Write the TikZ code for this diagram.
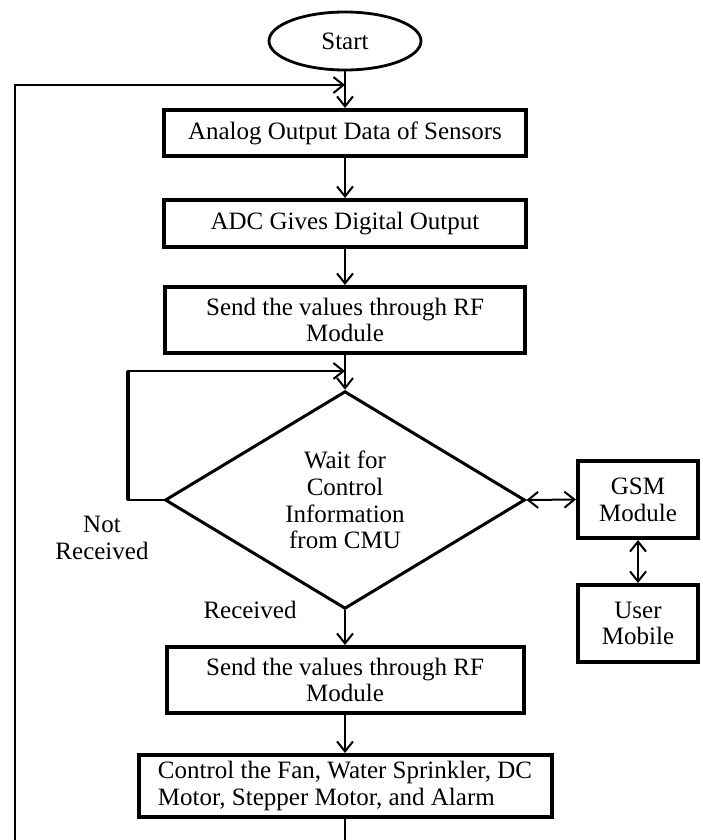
\documentclass[tikz,border=0pt]{standalone}
\usepackage{fontspec}
\setmainfont{Liberation Serif}
\usetikzlibrary{arrows.meta}
\usetikzlibrary{shapes.geometric}
\tikzstyle{term} = [draw, ellipse, line width=1.4pt, minimum width=76pt, minimum height=29pt]
\tikzstyle{box} = [draw, rectangle, line width=2pt, inner sep=0pt, align=center]
\tikzstyle{decision} = [draw, diamond, line width=1.5pt, inner sep=0pt, align=center, minimum width=180pt, minimum height=107pt]
\tikzstyle{arrow} = [-{Straight Barb[length=5pt,width=8pt]}, line width=1pt]
\tikzstyle{dblarrow} = [{Straight Barb[length=5pt,width=8pt]}-{Straight Barb[length=5pt,width=8pt]}, line width=1pt]

\begin{document}
\begin{tikzpicture}[x=0.5pt, y=-0.5pt, font=\fontsize{12.5}{13.4}\selectfont]
	\useasboundingbox (0,0) rectangle (702,840);

	\node[term](start) at (345,41){Start};
	\node[box, minimum width=181pt, minimum height=23pt](sensors) at (345,133){Analog Output Data of Sensors};
	\node[box, minimum width=181pt, minimum height=23.5pt](adc) at (345,223.5){ADC Gives Digital Output};
	\node[box, minimum width=180pt, minimum height=33pt](rfa) at (345,320){Send the values through RF\\Module};
	\node[decision](wait) at (345,500){Wait for\\Control\\Information\\from CMU};
	\node[box, minimum width=60pt, minimum height=38.5pt](gsm) at (638,499.5){GSM\\Module};
	\node[box, minimum width=60pt, minimum height=38.5pt](user) at (638,623.5){User\\Mobile};
	\node[box, minimum width=178.5pt, minimum height=33pt](rfb) at (345,680){Send the values through RF\\Module};
	\node[box, align=left, minimum width=206.5pt, minimum height=31pt](control) at (345,786){Control the Fan, Water Sprinkler, DC\\Motor, Stepper Motor, and Alarm};

	\node[align=center](notrec) at (102,538){Not\\Received};
	\node(rec) at (250,610){Received};

	\coordinate(top) at (345,85);
	\coordinate(loop) at (345,371);
	\coordinate(nrturn) at (128,500);
	\coordinate(leftend) at (15,840);
	\coordinate(ctrlend) at (345,840);

	\draw[arrow](start) -- (sensors);
	\draw[arrow](leftend) |- (top);
	\draw[arrow](sensors) -- (adc);
	\draw[arrow](adc) -- (rfa);
	\draw[arrow](rfa) -- (wait);
	\draw[arrow](wait.west) -- (nrturn) |- (loop);
	\draw[line width=2pt](nrturn) -- (128,371);
	\draw[dblarrow](wait.east) -- (gsm.west);
	\draw[dblarrow](gsm) -- (user);
	\draw[arrow](wait) -- (rfb);
	\draw[arrow](rfb) -- (control);
	\draw[line width=1pt](control) -- (ctrlend);
\end{tikzpicture}
\end{document}
